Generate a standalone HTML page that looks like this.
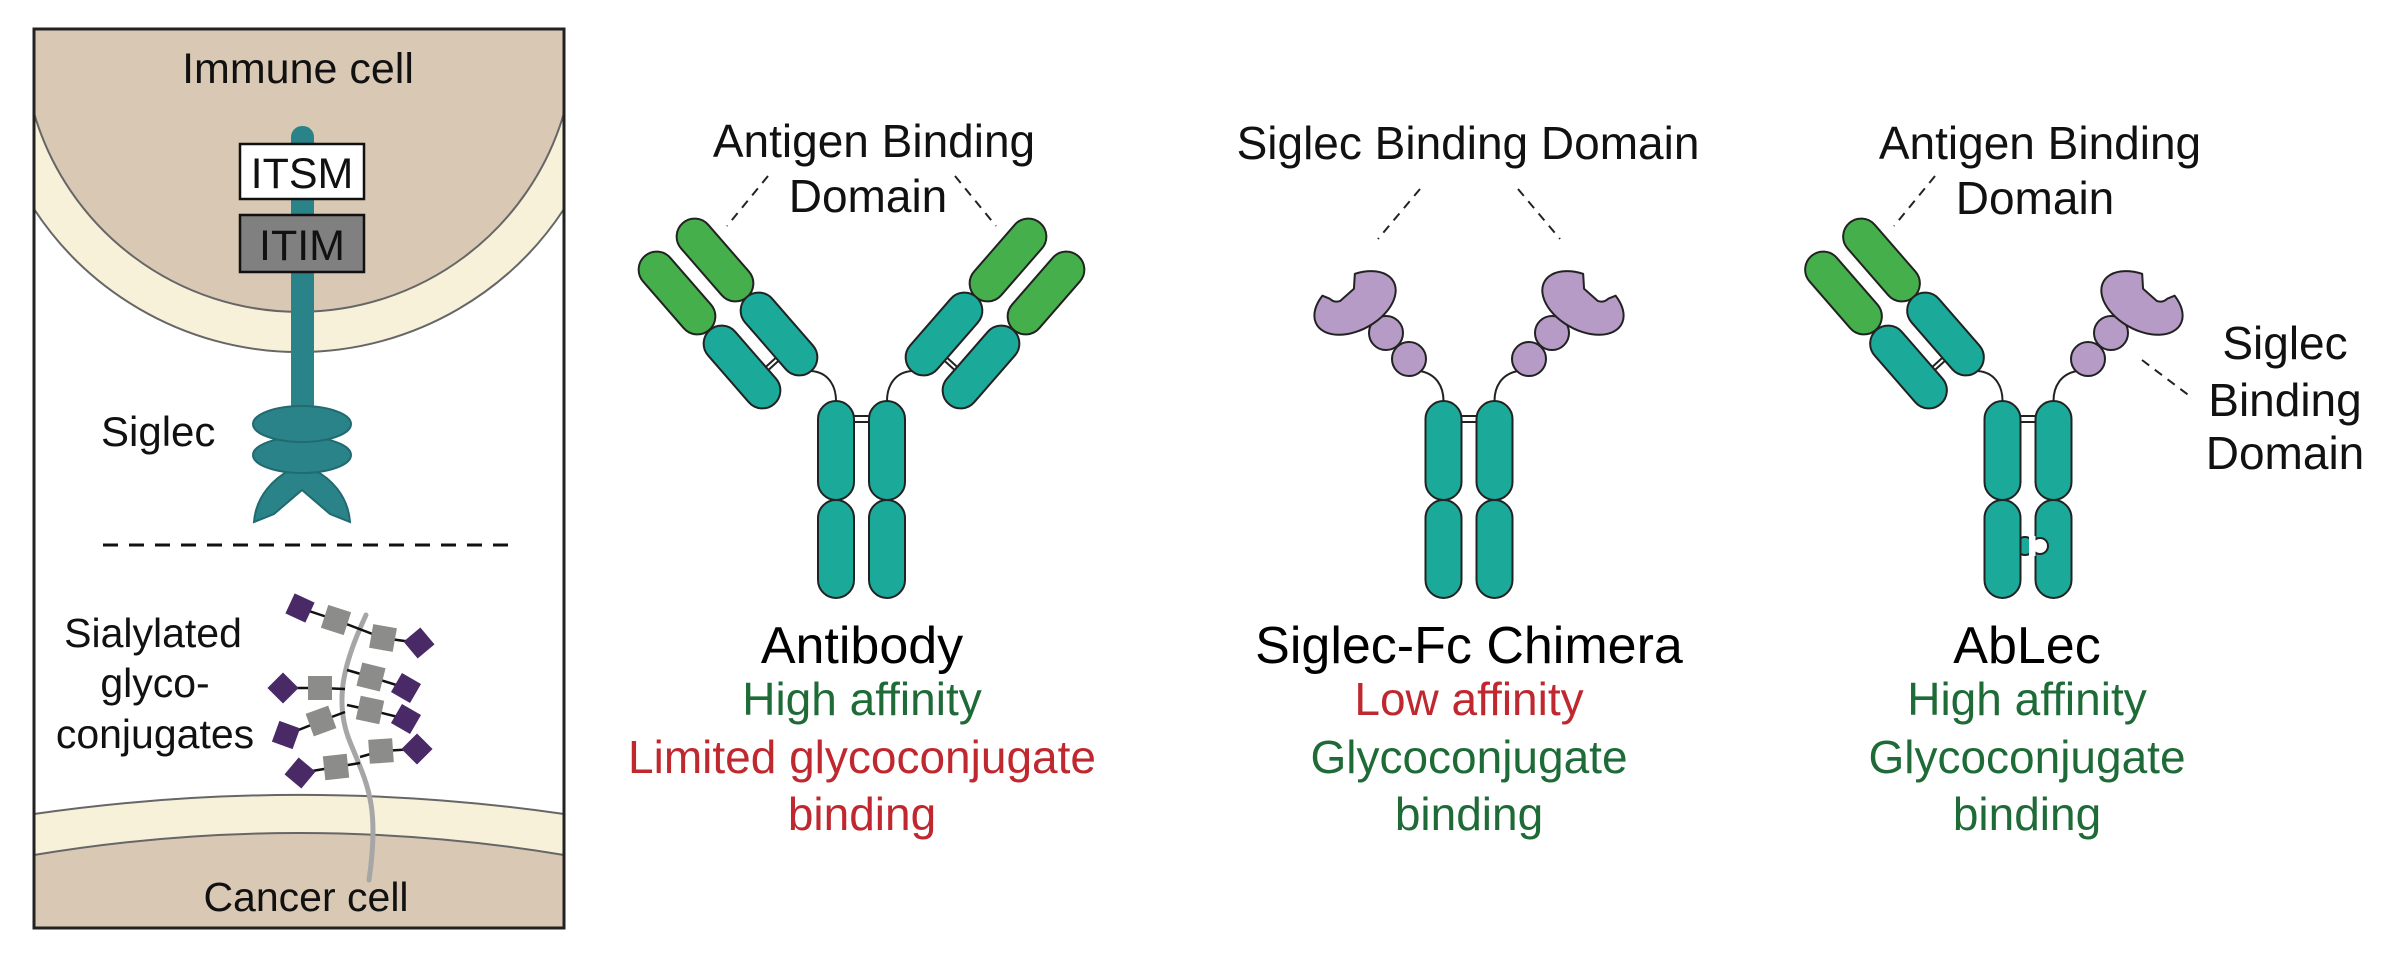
<!DOCTYPE html>
<html><head><meta charset="utf-8"><style>
html,body{margin:0;padding:0;background:#fff;width:2394px;height:966px;overflow:hidden}
svg{display:block}
text{font-family:"Liberation Sans",Arial,sans-serif}
</style></head><body>
<svg width="2394" height="966" viewBox="0 0 2394 966" xmlns="http://www.w3.org/2000/svg">
<defs>
<g id="stems">
  <line x1="-8" y1="416" x2="8" y2="416" stroke="#222" stroke-width="2"/>
  <line x1="-8" y1="422" x2="8" y2="422" stroke="#222" stroke-width="2"/>
  <rect x="-43.5" y="401" width="36" height="99" rx="18" fill="#1ba99a" stroke="#222" stroke-width="2"/>
  <rect x="-43.5" y="500" width="36" height="98" rx="18" fill="#1ba99a" stroke="#222" stroke-width="2"/>
  <rect x="7.5" y="401" width="36" height="99" rx="18" fill="#1ba99a" stroke="#222" stroke-width="2"/>
  <rect x="7.5" y="500" width="36" height="98" rx="18" fill="#1ba99a" stroke="#222" stroke-width="2"/>
</g>
<g id="abarm">
  <path d="M-50.5,371 C-34,372 -25.5,385 -25.5,401" fill="none" stroke="#222" stroke-width="2"/>
  <line x1="-95" y1="369" x2="-84" y2="359" stroke="#222" stroke-width="6"/>
  <line x1="-95" y1="369" x2="-84" y2="359" stroke="#fff" stroke-width="2"/>
  <rect transform="translate(-184.5,293) rotate(49)" x="-49" y="-18" width="98" height="36" rx="18" fill="#45b04b" stroke="#222" stroke-width="2"/>
  <rect transform="translate(-119.5,367) rotate(49)" x="-49" y="-18" width="98" height="36" rx="18" fill="#1ba99a" stroke="#222" stroke-width="2"/>
  <rect transform="translate(-146.5,260) rotate(49)" x="-49" y="-18" width="98" height="36" rx="18" fill="#45b04b" stroke="#222" stroke-width="2"/>
  <rect transform="translate(-82.5,334) rotate(49)" x="-49" y="-18" width="98" height="36" rx="18" fill="#1ba99a" stroke="#222" stroke-width="2"/>
</g>
<g id="sgarm">
  <path d="M-49,371 C-33,374 -25.5,386 -25.5,401" fill="none" stroke="#222" stroke-width="2"/>
  <circle cx="-60" cy="359" r="17" fill="#b79bc7" stroke="#222" stroke-width="2"/>
  <circle cx="-83" cy="333" r="17" fill="#b79bc7" stroke="#222" stroke-width="2"/>
  <path transform="translate(-114,303) rotate(-29)" d="M14,-25.6 L6,-13 L-12,-9 Q-18,-10 -20,-16 L-25,-22.2 A44,27 0 1,0 14,-25.6 Z" fill="#b79bc7" stroke="#222" stroke-width="2" stroke-linejoin="round"/>
</g>
</defs>

<rect x="34" y="29" width="530" height="899" fill="#fff"/>
<path d="M34,29 L34,209 A317,317 0 0,0 564,209 L564,29 Z" fill="#f7f1da"/>
<path d="M34,29 L34,113 A276,276 0 0,0 564,113 L564,29 Z" fill="#d8c8b4"/>
<path d="M34,928 L34,814 A1857,1857 0 0,1 564,814 L564,928 Z" fill="#f7f1da"/>
<path d="M34,928 L34,855 A1607,1607 0 0,1 564,855 L564,928 Z" fill="#d8c8b4"/>
<g fill="none" stroke="#666" stroke-width="2">
  <path d="M34,209 A317,317 0 0,0 564,209"/>
  <path d="M34,113 A276,276 0 0,0 564,113"/>
  <path d="M34,814 A1857,1857 0 0,1 564,814"/>
  <path d="M34,855 A1607,1607 0 0,1 564,855"/>
</g>
<rect x="34" y="29" width="530" height="899" fill="none" stroke="#222" stroke-width="3"/>
<text x="298" y="83" font-size="43" text-anchor="middle" fill="#111">Immune cell</text>
<rect x="291" y="126" width="23" height="300" rx="11" fill="#2b838a"/>
<rect x="240" y="144" width="124" height="55" fill="#fff" stroke="#111" stroke-width="2.5"/>
<text x="302" y="188" font-size="43" text-anchor="middle" fill="#111">ITSM</text>
<rect x="240" y="215" width="124" height="57" fill="#808080" stroke="#111" stroke-width="2.5"/>
<text x="302" y="260" font-size="43" text-anchor="middle" fill="#111">ITIM</text>
<path d="M254,522 C256,495 275,478 290,470 L314,470 C330,478 348,495 350,522 L330,514 L302,490 L274,514 Z" fill="#2b838a" stroke="#206a70" stroke-width="2"/>
<ellipse cx="302" cy="455" rx="49" ry="18" fill="#2b838a" stroke="#206a70" stroke-width="2"/>
<ellipse cx="302" cy="424" rx="49" ry="18" fill="#2b838a" stroke="#206a70" stroke-width="2"/>
<text x="101" y="446" font-size="42" fill="#111">Siglec</text>
<line x1="103" y1="545" x2="512" y2="545" stroke="#111" stroke-width="3" stroke-dasharray="15 11"/>
<text x="153" y="647" font-size="41" text-anchor="middle" fill="#111">Sialylated</text>
<text x="155" y="697" font-size="41" text-anchor="middle" fill="#111">glyco-</text>
<text x="155" y="748" font-size="41" text-anchor="middle" fill="#111">conjugates</text>
<text x="306" y="911" font-size="41" text-anchor="middle" fill="#111">Cancer cell</text>
<path d="M366,615 C345,660 333,700 350,742 S380,805 369,880" fill="none" stroke="#a6a6a6" stroke-width="5" stroke-linecap="round"/>
<g stroke="#111" stroke-width="2.5" fill="none">
  <polyline points="300,608 336,620 362,630 383,638 419,643"/>
  <polyline points="283,688 320,688 345,689"/>
  <polyline points="347,670 371,677 406,688"/>
  <polyline points="286,735 321,721 345,712"/>
  <polyline points="347,705 370,710 406,719"/>
  <polyline points="300,773 336,767 360,763"/>
  <polyline points="360,757 381,751 417,749"/>
</g>
<g fill="#8c8c8a">
  <rect x="-12" y="-12" width="24" height="24" transform="translate(336,620) rotate(18)"/>
  <rect x="-12" y="-12" width="24" height="24" transform="translate(383,638) rotate(10)"/>
  <rect x="-12" y="-12" width="24" height="24" transform="translate(320,688)"/>
  <rect x="-12" y="-12" width="24" height="24" transform="translate(371,677) rotate(14)"/>
  <rect x="-12" y="-12" width="24" height="24" transform="translate(321,721) rotate(-20)"/>
  <rect x="-12" y="-12" width="24" height="24" transform="translate(370,710) rotate(12)"/>
  <rect x="-12" y="-12" width="24" height="24" transform="translate(336,767) rotate(-6)"/>
  <rect x="-12" y="-12" width="24" height="24" transform="translate(381,751) rotate(-4)"/>
</g>
<g fill="#4a2a66">
  <rect x="-11" y="-11" width="22" height="22" transform="translate(300,608) rotate(25)"/>
  <rect x="-11" y="-11" width="22" height="22" transform="translate(419,643) rotate(50)"/>
  <rect x="-11" y="-11" width="22" height="22" transform="translate(283,688) rotate(45)"/>
  <rect x="-11" y="-11" width="22" height="22" transform="translate(406,688) rotate(30)"/>
  <rect x="-11" y="-11" width="22" height="22" transform="translate(286,735) rotate(20)"/>
  <rect x="-11" y="-11" width="22" height="22" transform="translate(406,719) rotate(30)"/>
  <rect x="-11" y="-11" width="22" height="22" transform="translate(300,773) rotate(40)"/>
  <rect x="-11" y="-11" width="22" height="22" transform="translate(417,749) rotate(45)"/>
</g>

<g transform="translate(861.5,0)">
  <use href="#stems"/>
  <use href="#abarm"/>
  <g transform="scale(-1,1)"><use href="#abarm"/></g>
</g>
<text x="874" y="157" font-size="46" text-anchor="middle" fill="#111">Antigen Binding</text>
<text x="868" y="212" font-size="46" text-anchor="middle" fill="#111">Domain</text>
<g stroke="#222" stroke-width="2" stroke-dasharray="9 7">
  <line x1="768" y1="176" x2="727" y2="226"/>
  <line x1="955" y1="176" x2="996" y2="226"/>
</g>

<g transform="translate(1469,0)">
  <use href="#stems"/>
  <use href="#sgarm"/>
  <g transform="scale(-1,1)"><use href="#sgarm"/></g>
</g>
<text x="1468" y="159" font-size="46" text-anchor="middle" fill="#111">Siglec Binding Domain</text>
<g stroke="#222" stroke-width="2" stroke-dasharray="9 7">
  <line x1="1420" y1="189" x2="1378" y2="239"/>
  <line x1="1518" y1="189" x2="1560" y2="239"/>
</g>

<g transform="translate(2028,0)">
  <circle cx="-3" cy="546" r="9" fill="#1ba99a" stroke="#222" stroke-width="2"/>
  <use href="#stems"/>
  <rect x="-42.5" y="502" width="34" height="94" rx="17" fill="#1ba99a"/>
  <circle cx="12" cy="546" r="8" fill="#fff" stroke="#222" stroke-width="2"/>
  <rect x="1" y="536" width="6.5" height="20" fill="#fff"/>
  <use href="#abarm"/>
  <g transform="scale(-1,1)"><use href="#sgarm"/></g>
</g>
<text x="2040" y="159" font-size="46" text-anchor="middle" fill="#111">Antigen Binding</text>
<text x="2035" y="214" font-size="46" text-anchor="middle" fill="#111">Domain</text>
<text x="2285" y="359" font-size="46" text-anchor="middle" fill="#111">Siglec</text>
<text x="2285" y="416" font-size="46" text-anchor="middle" fill="#111">Binding</text>
<text x="2285" y="469" font-size="46" text-anchor="middle" fill="#111">Domain</text>
<g stroke="#222" stroke-width="2" stroke-dasharray="9 7">
  <line x1="1935" y1="176" x2="1894" y2="226"/>
  <line x1="2142" y1="360" x2="2191" y2="397"/>
</g>

<g font-size="52" text-anchor="middle" fill="#000">
  <text x="862" y="663">Antibody</text>
  <text x="1469" y="663">Siglec-Fc Chimera</text>
  <text x="2027" y="663">AbLec</text>
</g>
<g font-size="46" text-anchor="middle">
  <text x="862" y="715" fill="#1e6b38">High affinity</text>
  <text x="862" y="773" fill="#c0282f">Limited glycoconjugate</text>
  <text x="862" y="830" fill="#c0282f">binding</text>
  <text x="1469" y="715" fill="#c0282f">Low affinity</text>
  <text x="1469" y="773" fill="#1e6b38">Glycoconjugate</text>
  <text x="1469" y="830" fill="#1e6b38">binding</text>
  <text x="2027" y="715" fill="#1e6b38">High affinity</text>
  <text x="2027" y="773" fill="#1e6b38">Glycoconjugate</text>
  <text x="2027" y="830" fill="#1e6b38">binding</text>
</g>
</svg>
</body></html>
